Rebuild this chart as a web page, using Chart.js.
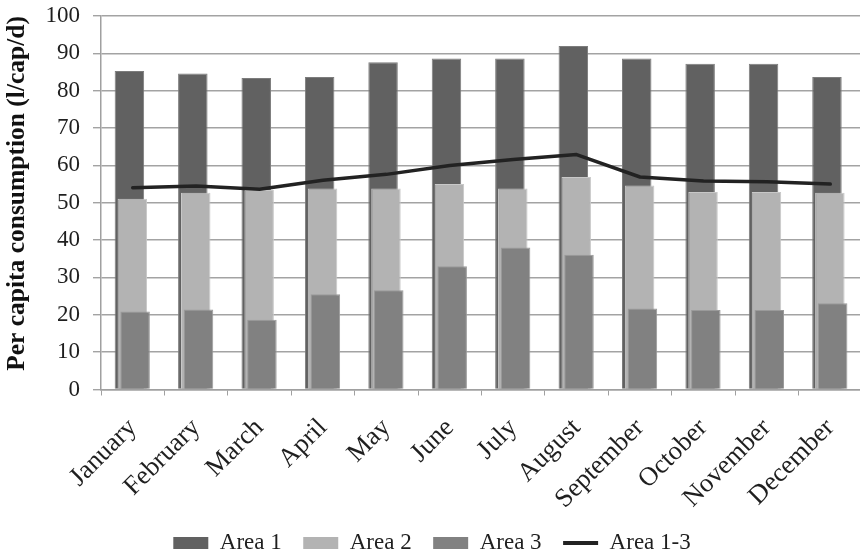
<!DOCTYPE html>
<html>
<head>
<meta charset="utf-8">
<script src="https://cdn.jsdelivr.net/npm/chart.js@4.4.1/dist/chart.umd.min.js"></script>
<style>
  html, body { margin: 0; padding: 0; background: #ffffff; overflow: hidden; }
  #wrap { width: 870px; height: 554px; }
</style>
</head>
<body>
<div id="wrap"><canvas id="chart" width="870" height="554"></canvas></div>
<script>
// Monthly per capita water consumption (l/cap/d)
const months = ['January', 'February', 'March', 'April', 'May', 'June',
                'July', 'August', 'September', 'October', 'November', 'December'];
const area1 = [85.3, 84.6, 83.4, 83.7, 87.6, 88.6, 88.6, 92.0, 88.6, 87.2, 87.2, 83.7];
const area2 = [51.1, 52.7, 53.4, 53.8, 53.8, 55.0, 53.8, 56.9, 54.6, 52.9, 52.9, 52.7];
const area3 = [20.9, 21.4, 18.7, 25.5, 26.6, 33.0, 38.0, 36.1, 21.7, 21.3, 21.3, 23.1];
const area13 = [54.0, 54.5, 53.6, 56.0, 57.6, 60.0, 61.6, 62.9, 56.9, 55.8, 55.6, 55.0];
const yTicks = [0, 10, 20, 30, 40, 50, 60, 70, 80, 90, 100];

// Horizontal nudge of each overlapping bar series, in pixels
const barShift = { 'Area 1': -3.3, 'Area 2': -0.4, 'Area 3': 2.4 };

Chart.defaults.font.family = "'Liberation Serif', 'Times New Roman', serif";
Chart.defaults.color = '#1f1f1f';

const shiftPlugin = {
  id: 'barShift',
  beforeDatasetDraw(chart, args) {
    const label = chart.data.datasets[args.index].label;
    chart.ctx.save();
    chart.ctx.translate(barShift[label] || 0, 0);
  },
  afterDatasetDraw(chart) {
    chart.ctx.restore();
  }
};

new Chart(document.getElementById('chart'), {
  type: 'bar',
  data: {
    labels: months,
    datasets: [
      { label: 'Area 1', data: area1, backgroundColor: '#616161', borderColor: '#7c7c7c',
        borderWidth: 1, order: 3 },
      { label: 'Area 2', data: area2, backgroundColor: '#b3b3b3', borderColor: '#c8c8c8',
        borderWidth: 1, order: 2 },
      { label: 'Area 3', data: area3, backgroundColor: '#818181', borderColor: '#9a9a9a',
        borderWidth: 1, order: 1 },
      { type: 'line', label: 'Area 1-3', data: area13, borderColor: '#222222', borderWidth: 3.5,
        pointRadius: 0, pointHoverRadius: 0, tension: 0, fill: false,
        borderCapStyle: 'round', borderJoinStyle: 'round', order: 0 }
    ]
  },
  options: {
    responsive: false,
    devicePixelRatio: 1,
    animation: false,
    grouped: false,
    categoryPercentage: 1,
    barPercentage: 0.465,
    layout: { padding: { top: 16, right: 6, bottom: -10.5, left: 0 } },
    plugins: {
      tooltip: { enabled: false },
      legend: {
        position: 'bottom',
        labels: {
          usePointStyle: true,
          pointStyleWidth: 35,
          boxHeight: 12,
          padding: 21.5,
          color: '#1f1f1f',
          font: { size: 23 },
          sort: (a, b) => a.datasetIndex - b.datasetIndex,
          generateLabels(chart) {
            const items = Chart.defaults.plugins.legend.labels.generateLabels(chart);
            items.forEach(it => {
              const ds = chart.data.datasets[it.datasetIndex];
              if (ds.type === 'line') {
                it.pointStyle = 'line';
                it.lineWidth = 4;
                it.strokeStyle = '#222222';
              } else {
                it.pointStyle = 'rect';
                it.lineWidth = 0;
              }
            });
            return items;
          }
        }
      }
    },
    scales: {
      x: {
        type: 'category',
        offset: true,
        grid: { drawOnChartArea: false, drawTicks: true, tickLength: 6, color: '#a0a0a0', offset: true },
        border: { color: '#a0a0a0', width: 1.5 },
        ticks: { autoSkip: false, maxRotation: 45, minRotation: 45, padding: 17,
                 color: '#1f1f1f', font: { size: 26.5 } },
        afterFit(scale) { scale.height = 120.5; }
      },
      y: {
        min: 0,
        max: 100,
        afterBuildTicks(scale) { scale.ticks = yTicks.map(v => ({ value: v })); },
        grid: { color: '#a3a3a3', lineWidth: 1.4, tickLength: 8 },
        border: { color: '#a0a0a0', width: 1.5 },
        ticks: { padding: 13, color: '#1f1f1f', font: { size: 23 } },
        title: {
          display: true,
          align: 'end',
          text: 'Per capita consumption (l/cap/d)',
          color: '#111111',
          font: { size: 25.5, weight: 'bold' },
          padding: { top: 2, bottom: 0 }
        },
        afterFit(scale) {
          scale.width = 101;
          scale.paddingTop = 0;
          scale.paddingBottom = 0;
        }
      }
    }
  },
  plugins: [shiftPlugin]
});
</script>
</body>
</html>
